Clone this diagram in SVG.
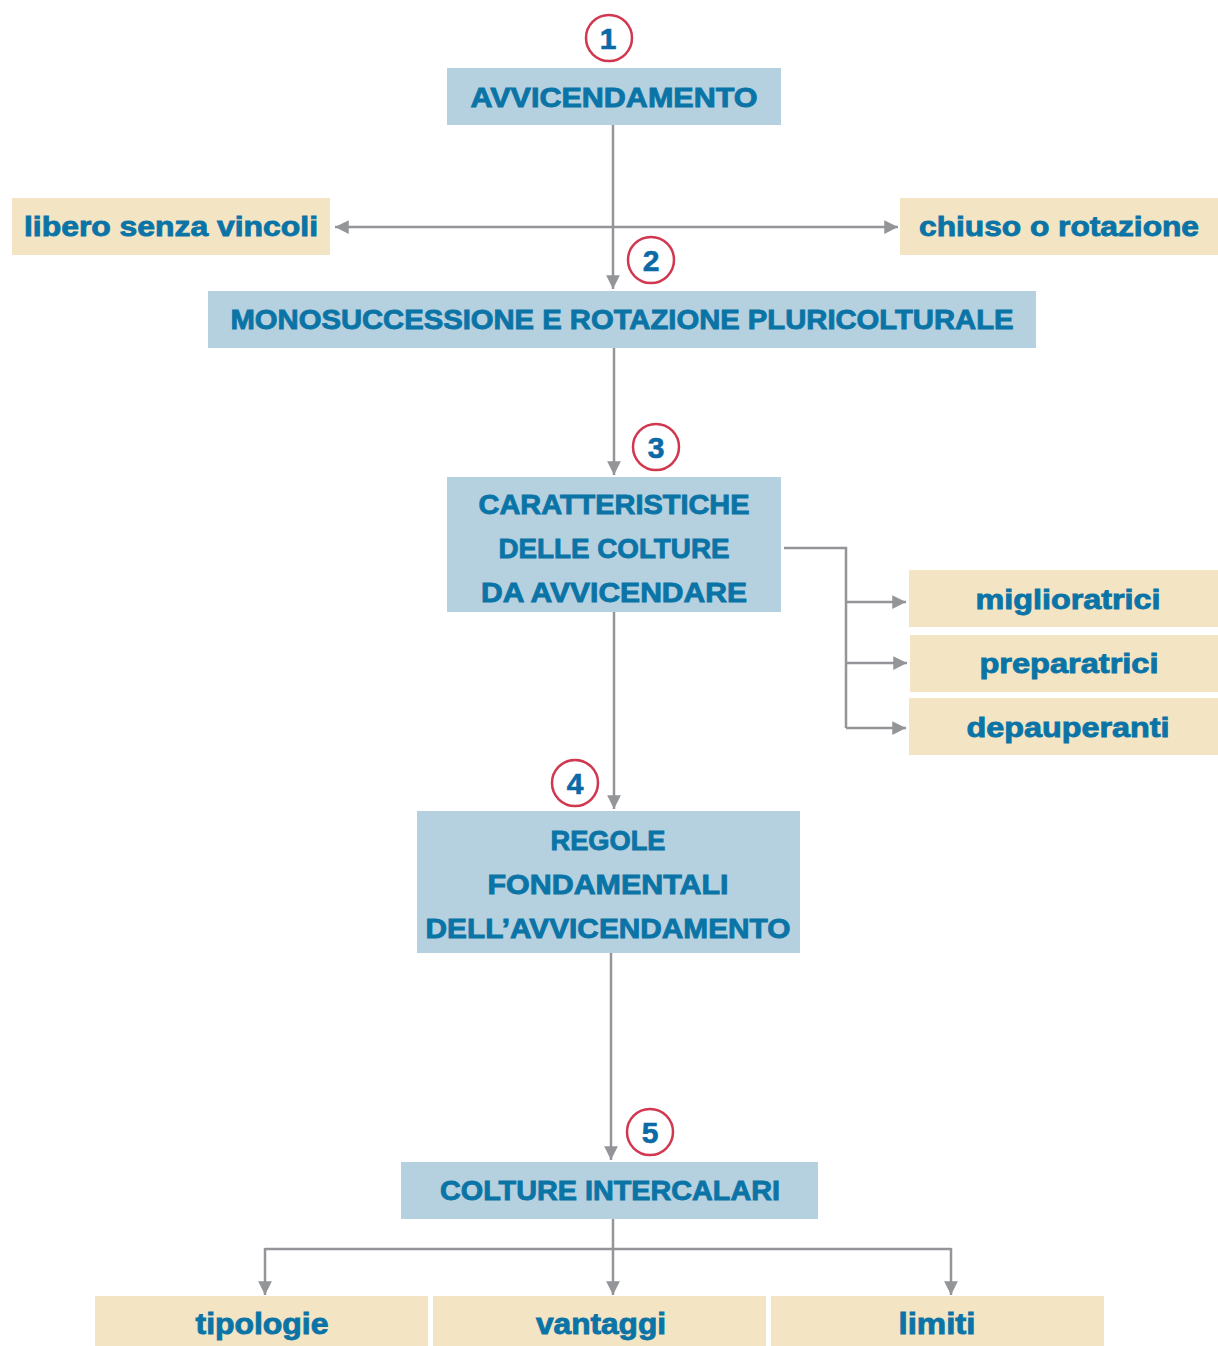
<svg xmlns="http://www.w3.org/2000/svg" width="1218" height="1346" viewBox="0 0 1218 1346">
<style>
.blue{fill:#b5d0de}
.beige{fill:#f3e4c4}
.t{font-family:"Liberation Sans",Arial,sans-serif;font-weight:bold;font-size:28px;fill:#0b74a6;stroke:#0b74a6;stroke-width:0.9;text-anchor:middle}
.tb{font-size:30px}
.num{font-family:"Liberation Sans",Arial,sans-serif;font-weight:bold;font-size:30px;fill:#0b6aa6;stroke:#0b6aa6;stroke-width:0.6;text-anchor:middle}
.circ{fill:#fff;stroke:#d1374f;stroke-width:2.5}
.ln{fill:none;stroke:#939598;stroke-width:2.5}
</style>
<defs>
<marker id="ah" viewBox="0 0 10 10" refX="10" refY="5" markerWidth="6" markerHeight="5.5" orient="auto-start-reverse" markerUnits="strokeWidth">
<path d="M0,0 L10,5 L0,10 Z" fill="#939598"/>
</marker>
</defs>
<rect width="1218" height="1346" fill="#fff"/>
<g id="connectors">
<line class="ln" x1="613" y1="125" x2="613" y2="289" marker-end="url(#ah)"/>
<line class="ln" x1="335" y1="227" x2="898" y2="227" marker-start="url(#ah)" marker-end="url(#ah)"/>
<line class="ln" x1="614" y1="348" x2="614" y2="475" marker-end="url(#ah)"/>
<polyline class="ln" points="784,548 846,548 846,728"/>
<line class="ln" x1="846" y1="602" x2="906" y2="602" marker-end="url(#ah)"/>
<line class="ln" x1="846" y1="663" x2="907" y2="663" marker-end="url(#ah)"/>
<line class="ln" x1="846" y1="728" x2="906" y2="728" marker-end="url(#ah)"/>
<line class="ln" x1="614" y1="612" x2="614" y2="809" marker-end="url(#ah)"/>
<line class="ln" x1="611" y1="953" x2="611" y2="1160" marker-end="url(#ah)"/>
<polyline class="ln" points="613,1219 613,1249"/>
<line class="ln" x1="265" y1="1249" x2="951" y2="1249"/>
<line class="ln" x1="265" y1="1248" x2="265" y2="1295" marker-end="url(#ah)"/>
<line class="ln" x1="613" y1="1248" x2="613" y2="1295" marker-end="url(#ah)"/>
<line class="ln" x1="951" y1="1248" x2="951" y2="1295" marker-end="url(#ah)"/>
</g>
<g id="n1"><circle class="circ" cx="609" cy="38" r="23"/><text class="num" x="608" y="49">1</text></g>
<g id="avvicendamento"><rect class="blue" x="447" y="68" width="334" height="57"/><text class="t" x="614" y="107" textLength="287" lengthAdjust="spacingAndGlyphs">AVVICENDAMENTO</text></g>
<g id="libero"><rect class="beige" x="12" y="198" width="318" height="57"/><text class="t" x="171" y="236" textLength="294" lengthAdjust="spacingAndGlyphs">libero senza vincoli</text></g>
<g id="chiuso"><rect class="beige" x="900" y="198" width="318" height="57"/><text class="t" x="1059" y="236" textLength="280" lengthAdjust="spacingAndGlyphs">chiuso o rotazione</text></g>
<g id="n2"><circle class="circ" cx="651" cy="260" r="23"/><text class="num" x="651" y="271">2</text></g>
<g id="monosuccessione"><rect class="blue" x="208" y="291" width="828" height="57"/><text class="t" x="622" y="329" textLength="783" lengthAdjust="spacingAndGlyphs">MONOSUCCESSIONE E ROTAZIONE PLURICOLTURALE</text></g>
<g id="n3"><circle class="circ" cx="656" cy="447" r="23"/><text class="num" x="656" y="458">3</text></g>
<g id="caratteristiche"><rect class="blue" x="447" y="477" width="334" height="135"/>
<text class="t" x="614" y="514" textLength="271" lengthAdjust="spacingAndGlyphs">CARATTERISTICHE</text>
<text class="t" x="614" y="558" textLength="231" lengthAdjust="spacingAndGlyphs">DELLE COLTURE</text>
<text class="t" x="614" y="602" textLength="266" lengthAdjust="spacingAndGlyphs">DA AVVICENDARE</text></g>
<g id="miglioratrici"><rect class="beige" x="909" y="570" width="309" height="57"/><text class="t" x="1068" y="609" textLength="185" lengthAdjust="spacingAndGlyphs">miglioratrici</text></g>
<g id="preparatrici"><rect class="beige" x="910" y="635" width="308" height="57"/><text class="t" x="1069" y="673" textLength="179" lengthAdjust="spacingAndGlyphs">preparatrici</text></g>
<g id="depauperanti"><rect class="beige" x="909" y="698" width="309" height="57"/><text class="t" x="1068" y="737" textLength="203" lengthAdjust="spacingAndGlyphs">depauperanti</text></g>
<g id="n4"><circle class="circ" cx="575" cy="783" r="23"/><text class="num" x="575" y="794">4</text></g>
<g id="regole"><rect class="blue" x="417" y="811" width="383" height="142"/>
<text class="t" x="608" y="850" textLength="115" lengthAdjust="spacingAndGlyphs">REGOLE</text>
<text class="t" x="608" y="894" textLength="241" lengthAdjust="spacingAndGlyphs">FONDAMENTALI</text>
<text class="t" x="608" y="938" textLength="365" lengthAdjust="spacingAndGlyphs">DELL’AVVICENDAMENTO</text></g>
<g id="n5"><circle class="circ" cx="650" cy="1132" r="23"/><text class="num" x="650" y="1143">5</text></g>
<g id="colture"><rect class="blue" x="401" y="1162" width="417" height="57"/><text class="t" x="610" y="1200" textLength="340" lengthAdjust="spacingAndGlyphs">COLTURE INTERCALARI</text></g>
<g id="tipologie"><rect class="beige" x="95" y="1296" width="333" height="50"/><text class="t tb" x="262" y="1334" textLength="133" lengthAdjust="spacingAndGlyphs">tipologie</text></g>
<g id="vantaggi"><rect class="beige" x="433" y="1296" width="333" height="50"/><text class="t tb" x="601" y="1334" textLength="130" lengthAdjust="spacingAndGlyphs">vantaggi</text></g>
<g id="limiti"><rect class="beige" x="771" y="1296" width="333" height="50"/><text class="t tb" x="937" y="1334" textLength="77" lengthAdjust="spacingAndGlyphs">limiti</text></g>
</svg>
